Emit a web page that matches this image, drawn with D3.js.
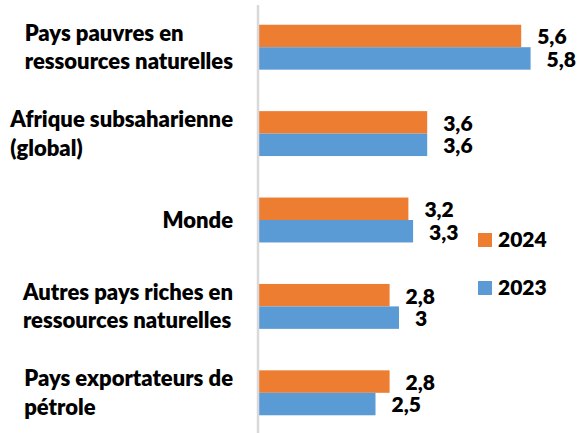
<!DOCTYPE html>
<html>
<head>
<meta charset="utf-8">
<script src="https://cdn.jsdelivr.net/npm/d3@7"></script>
<style>
  body { margin: 0; background: #fff; }
  text { font-family: Lato, "Open Sans", sans-serif; font-weight: 800; fill: #000; }
</style>
</head>
<body>
<svg id="viz" width="582" height="433"></svg>
<script>
const categories = [
  ["Pays pauvres en", "ressources naturelles"],
  ["Afrique subsaharienne", "(global)"],
  ["Monde"],
  ["Autres pays riches en", "ressources naturelles"],
  ["Pays exportateurs de", "pétrole"]
]
const series = ["2024", "2023"]
const values2024 = [5.6, 3.6, 3.2, 2.8, 2.8]
const values2023 = [5.8, 3.6, 3.3, 3.0, 2.5]
const colors = ["#ED7D31", "#5B9BD5"]

const svg = d3.select("svg#viz")
const FONT = 21
const CAT_FONT = 22

const rows = categories.map((c, i) => ({
  i: i,
  lines: c,
  vals: [values2024[i], values2023[i]]
}))

const x = d3.scaleLinear().domain([0, 6]).range([258, 540])
const y = d3.scaleBand()
  .domain(d3.range(categories.length))
  .range([4, 436])
  .paddingInner(0.48)
  .paddingOuter(0.24)
const yInner = d3.scaleBand().domain([0, 1]).range([0, y.bandwidth()])

const fmt = v => String(v).replace(".", ",")

// bars
const groups = svg.append("g").selectAll("g")
  .data(rows)
  .join("g")
  .attr("transform", d => `translate(0, ${y(d.i)})`)

groups.selectAll("rect")
  .data(d => d.vals.map((v, k) => ({ v: v, k: k })))
  .join("rect")
  .attr("x", x(0))
  .attr("y", d => yInner(d.k))
  .attr("width", d => x(d.v) - x(0))
  .attr("height", yInner.bandwidth())
  .attr("fill", d => colors[d.k])

groups.selectAll("text.val")
  .data(d => d.vals.map((v, k) => ({ v: v, k: k })))
  .join("text")
  .attr("class", "val")
  .attr("x", d => x(d.v) + 16)
  .attr("y", d => yInner(d.k) + yInner.bandwidth() / 2 + 1)
  .attr("dy", "0.35em")
  .style("font-size", FONT + "px")
  .text(d => fmt(d.v))

// axis line
svg.append("line")
  .attr("x1", x(0)).attr("x2", x(0))
  .attr("y1", 5).attr("y2", 433)
  .attr("stroke", "#d9d9d9")
  .attr("stroke-width", 2.5)

// category labels: block right-aligned, lines left-aligned
const LINE_H = 28.5
const RIGHT = 233
rows.forEach(d => {
  const g = svg.append("g")
  const cy = y(d.i) + y.bandwidth() / 2
  const n = d.lines.length
  const texts = d.lines.map((t, j) => g.append("text")
    .style("font-size", CAT_FONT + "px")
    .attr("y", cy + (j - (n - 1) / 2) * LINE_H)
    .attr("dy", "0.35em")
    .text(t))
  const w = d3.max(texts, t => t.node().getComputedTextLength())
  texts.forEach(t => t.attr("x", RIGHT - w))
})

// legend
const legend = svg.append("g").attr("transform", "translate(478, 240)")
series.forEach((s, k) => {
  const row = legend.append("g").attr("transform", `translate(0, ${k * 48})`)
  row.append("rect")
    .attr("x", 0).attr("y", -7)
    .attr("width", 14).attr("height", 14)
    .attr("fill", colors[k])
  row.append("text")
    .attr("x", 20).attr("y", 0)
    .attr("dy", "0.35em")
    .style("font-size", FONT + "px")
    .text(s)
})
</script>
</body>
</html>
